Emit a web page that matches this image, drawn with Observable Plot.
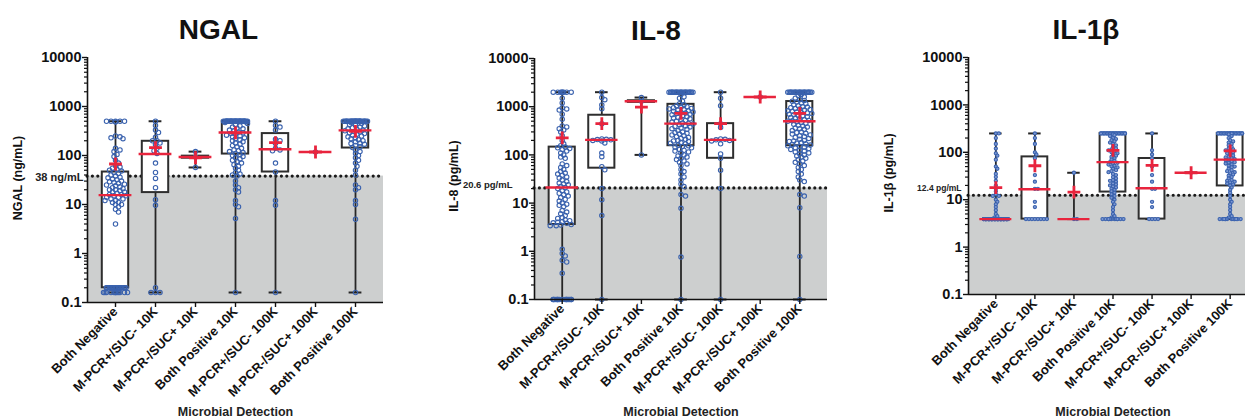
<!DOCTYPE html>
<html><head><meta charset="utf-8">
<script src="https://cdn.jsdelivr.net/npm/d3@7"></script>
<script src="https://cdn.jsdelivr.net/npm/@observablehq/plot@0.6"></script>
<style>
html,body{margin:0;padding:0;background:#fff;overflow:hidden;}
#wrap{position:relative;width:1245px;height:418px;overflow:hidden;}
#wrap > .panel{position:absolute;top:0;height:418px;}
#wrap svg{max-width:none !important;height:418px !important;display:block;}
svg text{font-family:"Liberation Sans",Arial,Helvetica,sans-serif;}
</style></head><body><div id="wrap"></div>
<script>
// ---------- data ----------
const categories = ["Both Negative","M-PCR+/SUC- 10K","M-PCR-/SUC+ 10K","Both Positive 10K","M-PCR+/SUC- 100K","M-PCR-/SUC+ 100K","Both Positive 100K"];
const yTicks = [0.1, 1, 10, 100, 1000, 10000];
const yTickLabels = ["0.1","1","10","100","1000","10000"];
const xTitle = "Microbial Detection";

// NGAL (ng/mL)
const ngalMin    = [0.16, 0.16, 57, 0.16, 0.16, 118, 0.16];
const ngalQ1     = [0.2, 17.5, 88, 107, 46, 118, 142];
const ngalMedian = [15.5, 107, 93, 295, 134, 118, 325];
const ngalQ3     = [46, 195, 97, 500, 280, 118, 500];
const ngalMax    = [500, 500, 120, 500, 500, 118, 500];
const ngalMean   = [67, 145, 90, 290, 183, 118, 310];
const ngalPoints = [
  [500,500,500,500,500,480,250,240,230,220,140,130,120,105,95,80,70,62,58,55,52,50,48,45,43,40,38,36,35,33,32,30,29,28,27,26,25,24,23,22,21,20,20,19,18,18,17,16,16,15,15,14,14,13,13,12,12,11,11,10,10,9,8,7,4,
   0.2,0.2,0.2,0.2,0.2,0.2,0.2,0.2,0.2,0.2,0.2,0.2,0.2,0.2,0.2,0.2,0.2,0.2,
   0.16,0.16,0.16,0.16,0.16,0.16,0.16,0.16,0.16,0.16,0.16,0.16],
  [500,410,330,295,235,200,200,180,165,140,125,110,70,45,34,22,12.5,9.6,0.2,0.16,0.16,0.16],
  [120,93,57],
  [500,500,500,500,500,500,500,500,500,500,500,500,500,500,500,500,500,500,500,500,500,500,500,500,500,500,500,500,500,500,500,500,500,500,500,
   480,470,450,420,400,380,360,350,330,320,300,290,280,270,260,250,240,230,220,210,200,190,180,170,160,150,140,130,125,120,115,110,105,100,
   95,90,85,80,75,70,65,60,55,50,45,42,40,38,30,25,22,20,18,12,10,9,5.2,0.16],
  [500,410,380,330,215,200,175,140,130,125,70,46,12,9.6,0.16],
  [118],
  [500,500,500,500,500,500,500,500,500,500,500,500,500,500,500,500,500,500,500,500,500,500,500,500,500,500,500,500,
   470,450,430,410,400,380,370,350,340,330,320,310,300,290,280,270,260,250,240,230,220,210,200,190,180,175,170,160,150,145,
   130,120,110,100,90,80,70,60,50,40,25,22,20,12,10,5,0.16]
];

// IL-8 (pg/mL)
const il8Min    = [0.1, 0.1, 100, 0.1, 0.1, 1590, 0.1];
const il8Q1     = [3.6, 53, 1230, 155, 85, 1590, 155];
const il8Median = [21, 205, 1300, 445, 205, 1590, 500];
const il8Q3     = [145, 665, 1330, 1120, 445, 1590, 1280];
const il8Max    = [2000, 2000, 1550, 2000, 2000, 1590, 2000];
const il8Mean   = [225, 445, 980, 730, 445, 1590, 730];
const il8Points = [
  [2000,2000,2000,2000,2000,2000,2000,2000,
   1500,1200,950,900,850,700,550,400,380,350,330,300,250,200,170,155,145,140,135,130,120,110,100,90,85,65,60,55,50,45,42,40,38,35,33,30,28,26,25,24,22,21,
   20,18,17,16,15,14,13,12,11,10,9.5,9,8.5,7,6.5,6,5.5,5,4.8,4.5,4.3,4.1,4,3.9,3.8,3.6,3.5,3.4,3.4,
   1.1,0.9,0.8,0.65,0.6,0.35,
   0.1,0.1,0.1,0.1,0.1,0.1,0.1,0.1,0.1,0.1,0.1,0.1,0.1,0.1,0.1],
  [2000,1550,1400,1090,905,445,215,210,208,205,200,195,177,109,92,57,49,20,11.8,5.5,0.1],
  [1550,1300,100],
  [2000,2000,2000,2000,2000,2000,2000,2000,2000,2000,2000,2000,2000,2000,2000,2000,2000,2000,2000,2000,2000,2000,
   1800,1600,1500,1300,1150,
   1100,1050,1000,980,950,920,900,870,850,820,800,780,760,740,720,700,680,650,620,600,580,560,540,520,500,480,460,450,
   440,420,400,390,380,360,350,340,320,300,290,280,270,260,250,240,230,220,210,200,195,190,180,175,170,160,155,
   150,145,140,130,125,120,115,110,100,95,90,85,80,75,70,65,60,50,45,40,35,30,25,22,15,14,7.8,0.76,0.1],
  [2000,1500,1050,445,370,215,210,205,200,195,170,105,85,48,20,0.1],
  [1590],
  [2000,2000,2000,2000,2000,2000,2000,2000,2000,2000,2000,2000,2000,2000,2000,2000,2000,2000,2000,2000,2000,2000,
   1900,1800,1700,1600,1500,1400,1350,1300,
   1250,1200,1150,1100,1050,1000,980,950,920,900,870,850,820,800,780,760,740,720,700,680,660,640,620,600,580,560,540,520,510,500,
   490,470,450,430,410,400,380,360,350,340,320,300,290,280,270,260,250,240,230,220,210,200,195,190,180,175,170,165,160,155,
   150,145,140,135,130,125,120,115,110,105,100,95,90,85,80,75,70,65,60,55,50,45,40,35,30,28,15,14,8,0.78,0.1]
];

// IL-1β (pg/mL)
const il1bMin    = [3.9, 3.9, 3.9, 3.9, 3.9, 37, 3.9];
const il1bQ1     = [3.9, 3.9, 3.9, 14.5, 3.9, 37, 19.5];
const il1bMedian = [3.9, 16.6, 3.9, 62, 17.5, 37, 70];
const il1bQ3     = [3.9, 80, 3.9, 250, 74, 37, 250];
const il1bMax    = [250, 250, 37, 250, 250, 37, 250];
const il1bMean   = [18, 52, 14.5, 110, 53, 37, 107];
const il1bPoints = [
  [250,250,200,150,120,95,85,70,50,45,35,30,25,20,17,15,13,12,12,10,9,8,7,6,5,4.5,4.2,
   3.9,3.9,3.9,3.9,3.9,3.9,3.9,3.9,3.9,3.9,3.9,3.9,3.9,3.9,3.9,3.9,3.9,3.9,3.9,3.9,3.9,3.9,3.9,3.9,3.9,3.9,3.9,3.9,3.9,3.9,
   3.9,3.9,3.9,3.9,3.9,3.9,3.9,3.9,3.9,3.9,3.9,3.9,3.9,3.9,3.9,3.9,3.9,3.9,3.9,3.9,3.9,3.9,3.9,3.9,3.9,3.9,3.9,3.9,3.9,3.9,
   3.9,3.9,3.9,3.9,3.9,3.9,3.9,3.9,3.9,3.9,3.9,3.9,3.9,3.9,3.9,3.9,3.9,3.9,3.9,3.9,3.9,3.9,3.9,3.9,3.9],
  [250,200,150,100,90,75,33,24,17,17,9,7,3.9,3.9,3.9,3.9,3.9,3.9,3.9,3.9],
  [37,3.9,3.9],
  [250,250,250,250,250,250,250,250,250,250,250,250,250,250,250,250,250,250,250,250,250,250,250,250,250,250,
   240,230,220,200,190,180,170,160,150,140,130,120,115,110,105,100,95,90,85,80,75,70,66,62,
   60,58,55,52,50,48,45,42,40,38,35,33,30,28,26,25,24,22,21,20,19,18,17,16,15,
   14,13,12,11,10,9,8,7,6,5,4.5,4.2,3.9,3.9,3.9,3.9,3.9,3.9,3.9,3.9,3.9,3.9,3.9,3.9],
  [250,110,90,75,50,33,24,17,17,9,7,3.9,3.9,3.9,3.9],
  [37],
  [250,250,250,250,250,250,250,250,250,250,250,250,250,250,250,250,250,250,250,250,250,250,250,250,250,250,250,250,
   240,220,200,180,170,160,150,140,130,120,115,110,105,100,95,90,85,80,78,75,72,70,
   68,65,62,60,58,55,52,50,48,45,42,40,38,36,34,32,30,28,26,25,24,23,22,21,20,
   18,16,14,12,10,9,8,7,6,5,4.5,4.2,3.9,3.9,3.9,3.9,3.9,3.9,3.9,3.9,3.9,3.9,3.9,3.9,3.9]
];

// ---------- drawing ----------
const BLUE = "#3a62ae", RED = "#e8243d", GRAY = "#cdcfcf", DARK = "#262626";
const FONT = "'Liberation Sans', Arial, Helvetica, sans-serif";
const xDomain = [-0.7, 6.7];
const yDomain = [0.1, 10000];
const minorTicks = [];
for (let e = -1; e < 4; e++) for (let m = 2; m <= 9; m++) minorTicks.push(+(m * Math.pow(10, e)).toPrecision(3));

function swarm(values, yPix, minDist, step, maxHalf) {
  const items = values.map(v => ({v, y: yPix(v)})).sort((a, b) => a.y - b.y);
  const cand = [0];
  for (let k = 1; k * step <= maxHalf; k++) cand.push(k * step, -k * step);
  const placed = [];
  let overflow = 0;
  for (const p of items) {
    let chosen = null;
    for (const c of cand) {
      let ok = true;
      for (const q of placed) {
        if (Math.abs(q.y - p.y) < minDist && Math.hypot(q.x - c, q.y - p.y) < minDist) { ok = false; break; }
      }
      if (ok) { chosen = c; break; }
    }
    if (chosen === null) chosen = cand[(overflow++) % cand.length];
    placed.push({x: chosen, y: p.y, v: p.v});
  }
  return placed;
}

function panel(cfg) {
  const {left, width, height, mL, mR, mT, mB, title, titleDx, yLabel, yLabelDx, yLabelDy, thr, thrLabel, thrDx, thrDy, thrFont, thrWeight,
         mins, q1s, meds, q3s, maxs, means, points, r, pointFill, pointStroke} = cfg;
  const pxPerUnit = (width - mL - mR) / (xDomain[1] - xDomain[0]);
  const L0 = Math.log10(yDomain[0]), L1 = Math.log10(yDomain[1]);
  const yPix = v => mT + (L1 - Math.log10(v)) / (L1 - L0) * (height - mT - mB);
  const pts = [];
  points.forEach((vals, i) => {
    swarm(vals, yPix, r * 1.6, 1.5, 12).forEach(p => pts.push({i, v: p.v, x: i + p.x / pxPerUnit}));
  });
  const rows = categories.map((c, i) => ({i, min: mins[i], q1: q1s[i], med: meds[i], q3: q3s[i], max: maxs[i], mean: means[i]}));
  const idx = categories.map((_, i) => i);
  const svg = Plot.plot({
    width, height, marginLeft: mL, marginRight: mR, marginTop: mT, marginBottom: mB,
    style: {fontFamily: FONT, background: "transparent", color: "#111", overflow: "visible"},
    x: {domain: xDomain},
    y: {type: "log", domain: yDomain},
    marks: [
      Plot.rect([thr], {x1: xDomain[0], x2: xDomain[1], y1: yDomain[0], y2: d => d, fill: GRAY}),
      Plot.ruleY([thr], {x1: xDomain[0], x2: xDomain[1], stroke: "#1a1a1a", strokeWidth: 3.2, strokeDasharray: "0,5.4", strokeLinecap: "round"}),
      Plot.ruleX(rows, {x: "i", y1: "min", y2: "max", stroke: DARK, strokeWidth: 1.8}),
      Plot.ruleY(rows, {y: "max", x1: d => d.i - 0.16, x2: d => d.i + 0.16, stroke: DARK, strokeWidth: 2}),
      Plot.ruleY(rows, {y: "min", x1: d => d.i - 0.16, x2: d => d.i + 0.16, stroke: DARK, strokeWidth: 2}),
      Plot.rect(rows, {x1: d => d.i - 0.33, x2: d => d.i + 0.33, y1: "q1", y2: "q3", fill: "white", stroke: "#2e2e2e", strokeWidth: 2}),
      Plot.dot(pts, {x: "x", y: "v", r, stroke: pointStroke, fill: pointFill, strokeWidth: 1.1}),
      Plot.ruleY(rows, {y: "med", x1: d => d.i - 0.41, x2: d => d.i + 0.41, stroke: RED, strokeWidth: 2.4}),
      Plot.dot(rows, {x: "i", y: "mean", symbol: "plus", r: 4.2, stroke: RED, strokeWidth: 2.8}),
      // axes
      Plot.ruleX([xDomain[0]], {y1: yDomain[0], y2: yDomain[1], stroke: "#111", strokeWidth: 1.6}),
      Plot.ruleY([yDomain[0]], {x1: xDomain[0], x2: xDomain[1], stroke: "#111", strokeWidth: 1.6}),
      Plot.axisY(minorTicks, {tickSize: 3, tickFormat: () => "", label: null, strokeWidth: 1.2}),
      Plot.axisY(yTicks, {tickSize: 5, tickPadding: 1, tickFormat: d => yTickLabels[yTicks.indexOf(d)], label: null, strokeWidth: 1.4,
        fontSize: 14.5, fontWeight: "bold"}),
      Plot.axisX(idx, {tickSize: 5, tickPadding: 2, tickRotate: -45, tickFormat: i => categories[i], label: null, strokeWidth: 1.4,
        fontSize: 13, fontWeight: "bold"}),
      Plot.text([thr], {frameAnchor: "left", y: d => d, text: () => thrLabel, textAnchor: "end", dx: thrDx, dy: thrDy,
        fontSize: thrFont, fontWeight: thrWeight, fill: "#222"}),
      Plot.text([yLabel], {frameAnchor: "left", textAnchor: "middle", rotate: -90, dx: yLabelDx, dy: yLabelDy, fontSize: 12.5, fontWeight: "bold", fill: "#111"}),
      Plot.text([xTitle], {frameAnchor: "bottom", textAnchor: "middle", lineAnchor: "bottom", dy: mB - 3, fontSize: 12.5, fontWeight: "bold", fill: "#222"}),
      Plot.text([title], {frameAnchor: "top", textAnchor: "middle", lineAnchor: "bottom", dx: titleDx, dy: -19, fontSize: 28, fontWeight: "bold", fill: "#111"})
    ]
  });
  // enforce axis label fonts
  const s = d3.select(svg);
  s.selectAll('[aria-label="y-axis tick label"] text').style("font-size", "14.5px").style("font-weight", "bold");
  s.selectAll('[aria-label="x-axis tick label"] text').style("font-size", "13px").style("font-weight", "bold");
  const div = document.createElement("div");
  div.className = "panel";
  div.style.left = left + "px";
  div.style.width = width + "px";
  div.appendChild(svg);
  document.getElementById("wrap").appendChild(div);
}

panel({left: 0, width: 420, height: 418, mL: 87, mR: 37, mT: 57, mB: 116,
  title: "NGAL", titleDx: -17, yLabel: "NGAL (ng/mL)", yLabelDx: -70, yLabelDy: -2,
  thr: 38, thrLabel: "38 ng/mL", thrDx: -4, thrDy: 1, thrFont: 11, thrWeight: "bold",
  mins: ngalMin, q1s: ngalQ1, meds: ngalMedian, q3s: ngalQ3, maxs: ngalMax, means: ngalMean, points: ngalPoints,
  r: 2.2, pointFill: "none", pointStroke: BLUE});

panel({left: 420, width: 420, height: 418, mL: 114, mR: 13, mT: 58, mB: 119,
  title: "IL-8", titleDx: -25, yLabel: "IL-8 (pg/mL)", yLabelDx: -81, yLabelDy: -3,
  thr: 20.6, thrLabel: "20.6 pg/mL", thrDx: -22, thrDy: -3, thrFont: 9.5, thrWeight: "bold",
  mins: il8Min, q1s: il8Q1, meds: il8Median, q3s: il8Q3, maxs: il8Max, means: il8Mean, points: il8Points,
  r: 2.2, pointFill: "none", pointStroke: BLUE});

panel({left: 840, width: 417, height: 418, mL: 128, mR: 0, mT: 57, mB: 124,
  title: "IL-1β", titleDx: -27, yLabel: "IL-1β (pg/mL)", yLabelDx: -80, yLabelDy: -3,
  thr: 12.4, thrLabel: "12.4 pg/mL", thrDx: -7, thrDy: -7, thrFont: 8.5, thrWeight: "bold",
  mins: il1bMin, q1s: il1bQ1, meds: il1bMedian, q3s: il1bQ3, maxs: il1bMax, means: il1bMean, points: il1bPoints,
  r: 1.6, pointFill: "#7d98d2", pointStroke: BLUE});
</script>
</body></html>
